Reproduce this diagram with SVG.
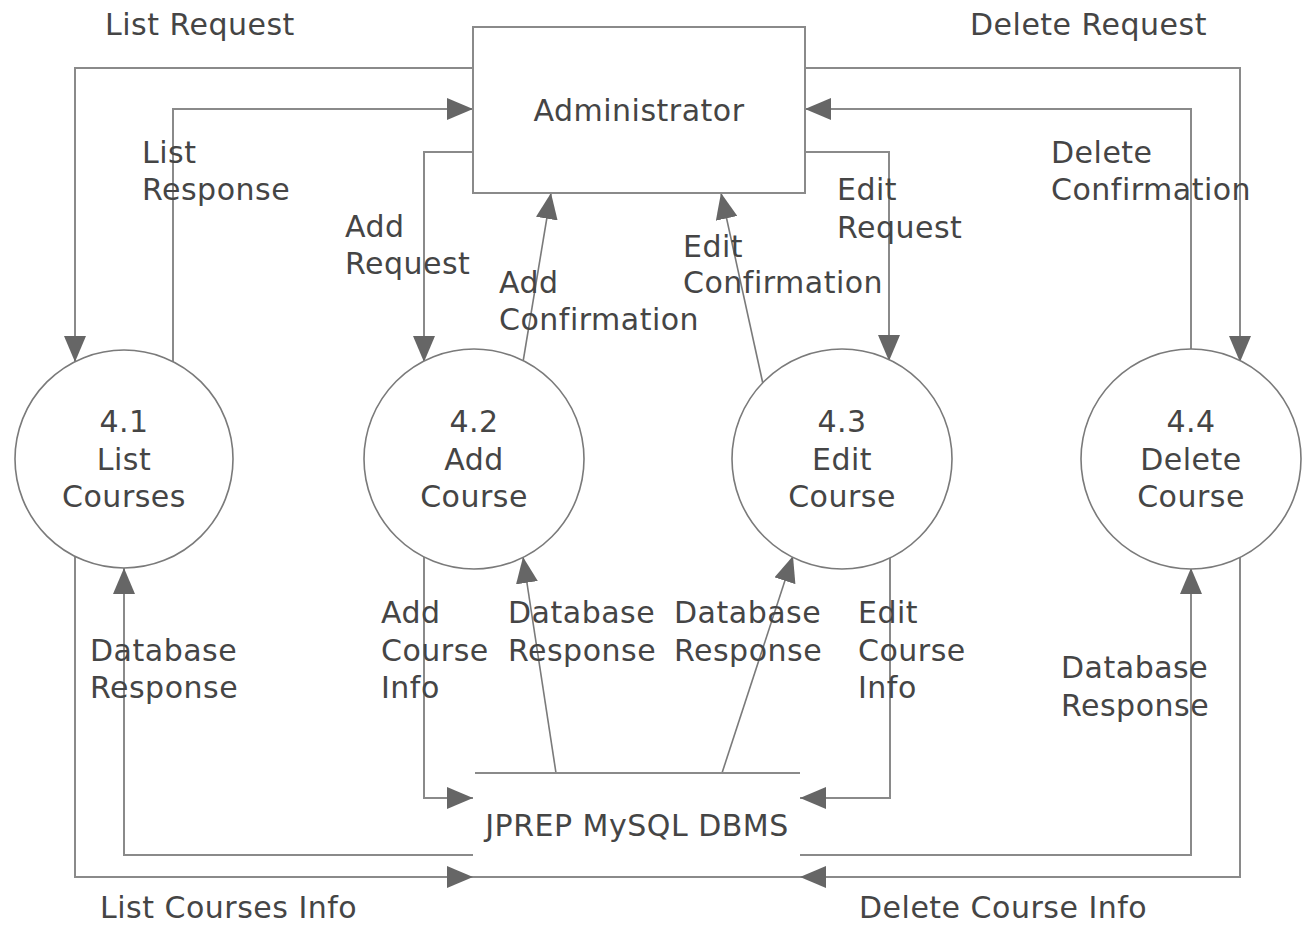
<svg xmlns="http://www.w3.org/2000/svg" width="1307" height="925" viewBox="0 0 1307 925">
<style>
.bg{fill:#ffffff}
.box{fill:#ffffff;stroke:#8a8a8a;stroke-width:2}
.proc{fill:#ffffff;stroke:#7a7a7a;stroke-width:1.6}
.store{stroke:#8a8a8a;stroke-width:2;fill:none}
.flow{fill:none;stroke:#8a8a8a;stroke-width:2}
.thin{fill:none;stroke:#7a7a7a;stroke-width:1.6}
text{font-family:"DejaVu Sans",Verdana,sans-serif;font-size:30px;letter-spacing:0.5px;fill:#454545}
.c{text-anchor:middle}
</style>
<defs>
<marker id="arr" viewBox="0 0 26 22" refX="26" refY="11" markerWidth="26" markerHeight="22" markerUnits="userSpaceOnUse" orient="auto">
<path d="M0,0 L26,11 L0,22 z" fill="#666666"/>
</marker>
</defs>
<rect class="bg" x="0" y="0" width="1307" height="925"/>

<g id="connectors">
<path class="flow" d="M473,68 H75 V362" marker-end="url(#arr)"/>
<path class="flow" d="M173,362 V109 H473" marker-end="url(#arr)"/>
<path class="flow" d="M473,152 H424 V362" marker-end="url(#arr)"/>
<path class="thin" d="M523,362 L551,193" marker-end="url(#arr)"/>
<path class="thin" d="M763,384 L721,193" marker-end="url(#arr)"/>
<path class="flow" d="M805,152 H889 V361" marker-end="url(#arr)"/>
<path class="flow" d="M805,68 H1240 V362" marker-end="url(#arr)"/>
<path class="flow" d="M1191,350 V109 H805" marker-end="url(#arr)"/>
<path class="flow" d="M75,556 V877 H473" marker-end="url(#arr)"/>
<path class="flow" d="M473,855 H124 V568" marker-end="url(#arr)"/>
<path class="flow" d="M424,556 V798 H473" marker-end="url(#arr)"/>
<path class="thin" d="M556,773 L523,557" marker-end="url(#arr)"/>
<path class="thin" d="M722,773 L793,556" marker-end="url(#arr)"/>
<path class="flow" d="M890,557 V798 H800" marker-end="url(#arr)"/>
<path class="flow" d="M800,855 H1191 V568" marker-end="url(#arr)"/>
<path class="flow" d="M1240,556 V877 H800" marker-end="url(#arr)"/>
</g>

<g id="administrator">
<rect class="box" x="473" y="27" width="332" height="166"/>
<text class="c" x="639" y="121">Administrator</text>
</g>

<g id="p41">
<circle class="proc" cx="124" cy="459" r="109"/>
<text class="c" x="124" y="432">4.1</text>
<text class="c" x="124" y="470">List</text>
<text class="c" x="124" y="507">Courses</text>
</g>
<g id="p42">
<circle class="proc" cx="474" cy="459" r="110"/>
<text class="c" x="474" y="432">4.2</text>
<text class="c" x="474" y="470">Add</text>
<text class="c" x="474" y="507">Course</text>
</g>
<g id="p43">
<circle class="proc" cx="842" cy="459" r="110"/>
<text class="c" x="842" y="432">4.3</text>
<text class="c" x="842" y="470">Edit</text>
<text class="c" x="842" y="507">Course</text>
</g>
<g id="p44">
<circle class="proc" cx="1191" cy="459" r="110"/>
<text class="c" x="1191" y="432">4.4</text>
<text class="c" x="1191" y="470">Delete</text>
<text class="c" x="1191" y="507">Course</text>
</g>

<g id="datastore">
<line class="store" x1="475" y1="773" x2="800" y2="773"/>
<line class="store" x1="473" y1="877" x2="800" y2="877"/>
<text class="c" x="637" y="836">JPREP MySQL DBMS</text>
</g>

<g id="labels">
<text x="105" y="35">List Request</text>
<text x="970" y="35">Delete Request</text>
<text x="142" y="163">List</text>
<text x="142" y="200">Response</text>
<text x="345" y="237">Add</text>
<text x="345" y="274">Request</text>
<text x="499" y="293">Add</text>
<text x="499" y="330">Confirmation</text>
<text x="683" y="257">Edit</text>
<text x="683" y="293">Confirmation</text>
<text x="837" y="200">Edit</text>
<text x="837" y="238">Request</text>
<text x="1051" y="163">Delete</text>
<text x="1051" y="200">Confirmation</text>
<text x="90" y="661">Database</text>
<text x="90" y="698">Response</text>
<text x="381" y="623">Add</text>
<text x="381" y="661">Course</text>
<text x="381" y="698">Info</text>
<text x="508" y="623">Database</text>
<text x="508" y="661">Response</text>
<text x="674" y="623">Database</text>
<text x="674" y="661">Response</text>
<text x="858" y="623">Edit</text>
<text x="858" y="661">Course</text>
<text x="858" y="698">Info</text>
<text x="1061" y="678">Database</text>
<text x="1061" y="716">Response</text>
<text x="100" y="918">List Courses Info</text>
<text x="859" y="918">Delete Course Info</text>
</g>
</svg>
